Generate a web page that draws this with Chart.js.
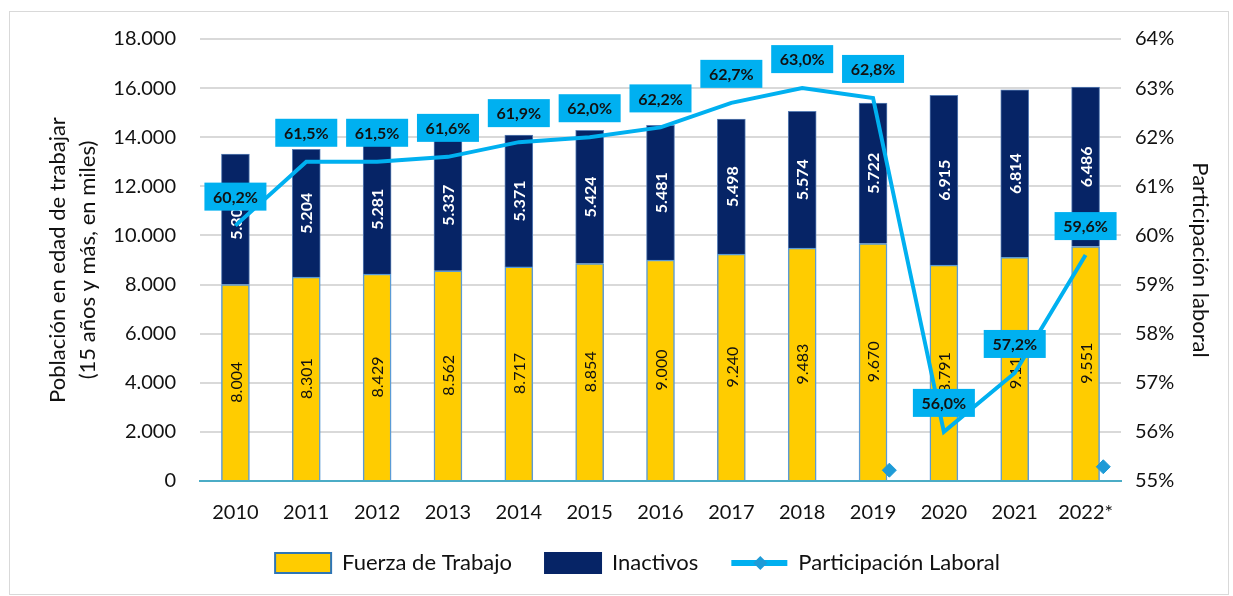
<!DOCTYPE html>
<html>
<head>
<meta charset="utf-8">
<script src="https://cdn.jsdelivr.net/npm/chart.js"></script>
<style>
  html, body { margin: 0; padding: 0; background: #fff; }
  #frame { position: absolute; left: 9px; top: 11px; width: 1220px; height: 584px; border: 1px solid #d9d9d9; box-sizing: border-box; }
  #wrap { position: absolute; left: 0; top: 0; width: 1233px; height: 596px; }
</style>
</head>
<body>
<div id="frame"></div>
<div id="wrap"><canvas id="fuerzaChart"></canvas></div>
<script>
// data (miles de personas / %)
const years = ["2010", "2011", "2012", "2013", "2014", "2015", "2016", "2017", "2018", "2019", "2020", "2021", "2022*"];
const fuerzaTrabajo = [8004, 8301, 8429, 8562, 8717, 8854, 9000, 9240, 9483, 9670, 8791, 9113, 9551];
const inactivos = [5309, 5204, 5281, 5337, 5371, 5424, 5481, 5498, 5574, 5722, 6915, 6814, 6486];
const participacion = [60.2, 61.5, 61.5, 61.6, 61.9, 62.0, 62.2, 62.7, 63.0, 62.8, 56.0, 57.2, 59.6];
// two stray diamond markers sitting near the base line
const strayMarkers = [{x: 9.23, y: 55.22}, {x: 12.25, y: 55.29}];

const FONT = "Lato, 'Open Sans', sans-serif";

// 16000 -> "16.000"
function miles(n) {
    return String(n).replace(/\B(?=(\d{3})+(?!\d))/g, ".");
}

// labels inside the bars, rotated
const barLabels = {
    id: "barLabels",
    afterDatasetDraw(chart, args) {
        const ds = chart.data.datasets[args.index];
        if (ds.type !== "bar") return;
        const ctx = chart.ctx;
        const meta = args.meta;
        ctx.save();
        ctx.font = (ds.labelBold ? "bold " : "") + "16px " + FONT;
        ctx.fillStyle = ds.labelColor;
        ctx.textAlign = "center";
        ctx.textBaseline = "middle";
        meta.data.forEach((bar, i) => {
            const mid = (bar.y + bar.base) / 2;
            ctx.save();
            ctx.translate(bar.x, mid);
            ctx.rotate(-Math.PI / 2);
            ctx.fillText(miles(ds.data[i]), 0, 1);
            ctx.restore();
        });
        ctx.restore();
    }
};

// blue boxes with the % above each point of the line
const lineLabels = {
    id: "lineLabels",
    afterDatasetsDraw(chart) {
        const ctx = chart.ctx;
        const idx = chart.data.datasets.findIndex(d => d.type === "line");
        const meta = chart.getDatasetMeta(idx);
        const ds = chart.data.datasets[idx];
        ctx.save();
        ctx.font = "bold 16px " + FONT;
        ctx.textAlign = "center";
        ctx.textBaseline = "middle";
        meta.data.forEach((pt, i) => {
            const txt = ds.data[i].toFixed(1).replace(".", ",") + "%";
            const w = 62, h = 28;
            const cx = pt.x, cy = pt.y - 29;
            ctx.fillStyle = "#00b0f0";
            ctx.fillRect(cx - w / 2, cy - h / 2, w, h);
            ctx.fillStyle = "#111";
            ctx.fillText(txt, cx, cy + 1);
        });
        ctx.restore();

        // diamond on the legend line
        const boxes = chart.legend.legendHitBoxes;
        if (boxes && boxes[2]) {
            const b = boxes[2];
            const x = b.left + 29, y = b.top + b.height / 2;
            ctx.save();
            ctx.fillStyle = "#1e9bd7";
            ctx.beginPath();
            ctx.moveTo(x, y - 7);
            ctx.lineTo(x + 7, y);
            ctx.lineTo(x, y + 7);
            ctx.lineTo(x - 7, y);
            ctx.closePath();
            ctx.fill();
            ctx.restore();
        }
    }
};

new Chart("fuerzaChart", {
    data: {
        labels: years,
        datasets: [
            {
                type: "line",
                label: "Participación Laboral",
                data: participacion,
                yAxisID: "y1",
                borderColor: "#00b0f0",
                backgroundColor: "#00b0f0",
                borderWidth: 4,
                pointRadius: 0,
                tension: 0,
                order: 1,
            },
            {
                type: "bar",
                label: "Fuerza de Trabajo",
                data: fuerzaTrabajo,
                backgroundColor: "#ffcc00",
                borderColor: "#5b9bd5",
                borderWidth: 1.5,
                labelColor: "#111",
                labelBold: false,
                order: 2,
            },
            {
                type: "bar",
                label: "Inactivos",
                data: inactivos,
                backgroundColor: "#062466",
                borderColor: "#5b7fb5",
                borderWidth: 1,
                labelColor: "#fff",
                labelBold: true,
                order: 2,
            },
            {
                type: "scatter",
                label: "marcas",
                data: strayMarkers,
                xAxisID: "x2",
                yAxisID: "y1",
                pointStyle: "rectRot",
                pointRadius: 7,
                backgroundColor: "#1e9bd7",
                borderColor: "#1e9bd7",
                order: 0,
            },
        ]
    },
    options: {
        responsive: true,
        maintainAspectRatio: false,
        animation: false,
        datasets: {
            // not grouped: each bar sits on its category centre
            bar: { grouped: false, barPercentage: 1, categoryPercentage: 1, maxBarThickness: 28 }
        },
        layout: {
            padding: { left: 42, right: 0, top: 39, bottom: 12 }
        },
        scales: {
            x: {
                stacked: true,
                grid: { display: false },
                border: { color: "#4bacc6", width: 2 },
                ticks: { color: "#111", font: { family: FONT, size: 20 }, padding: 12 },
                afterFit(scale) { scale.height = 38; }
            },
            x2: {
                type: "linear",
                display: false,
                min: -0.5,
                max: 12.5,
            },
            y: {
                stacked: true,
                min: 0,
                max: 18000,
                ticks: {
                    stepSize: 2000,
                    color: "#111",
                    font: { family: FONT, size: 20 },
                    padding: 24,
                    callback: v => miles(v)
                },
                grid: { color: "#d9d9d9", lineWidth: 2, drawTicks: false },
                border: { display: false },
                title: {
                    display: true,
                    text: ["Población en edad de trabajar", "(15 años y más, en miles)"],
                    color: "#111",
                    font: { family: FONT, size: 22, lineHeight: 1.36 },
                    padding: { top: 1, bottom: 0 }
                },
                afterFit(scale) { scale.width = 158; }
            },
            y1: {
                position: "right",
                min: 55,
                max: 64,
                ticks: {
                    stepSize: 1,
                    color: "#111",
                    font: { family: FONT, size: 20 },
                    padding: 14,
                    callback: v => v + "%"
                },
                grid: { drawOnChartArea: false, drawTicks: false },
                border: { display: false },
                title: {
                    display: true,
                    text: "Participación laboral",
                    color: "#111",
                    font: { family: FONT, size: 22, lineHeight: 1.2 },
                    padding: { top: 20, bottom: 0 }
                },
                afterFit(scale) { scale.width = 112; }
            }
        },
        plugins: {
            legend: {
                position: "bottom",
                labels: {
                    color: "#111",
                    font: { family: FONT, size: 22 },
                    usePointStyle: true,
                    pointStyleWidth: 56,
                    boxHeight: 20,
                    padding: 33,
                    generateLabels(chart) {
                        const order = [1, 2, 0];
                        return order.map(i => {
                            const ds = chart.data.datasets[i];
                            return {
                                text: ds.label,
                                fillStyle: ds.backgroundColor,
                                strokeStyle: ds.type === "line" ? ds.borderColor : (i === 1 ? "#2e75b6" : ds.backgroundColor),
                                lineWidth: ds.type === "line" ? 6 : 2,
                                pointStyle: ds.type === "line" ? "line" : "rect",
                                fontColor: "#111",
                                hidden: false,
                                datasetIndex: i
                            };
                        });
                    }
                }
            },
            tooltip: { enabled: false }
        }
    },
    plugins: [barLabels, lineLabels]
});
</script>
</body>
</html>
